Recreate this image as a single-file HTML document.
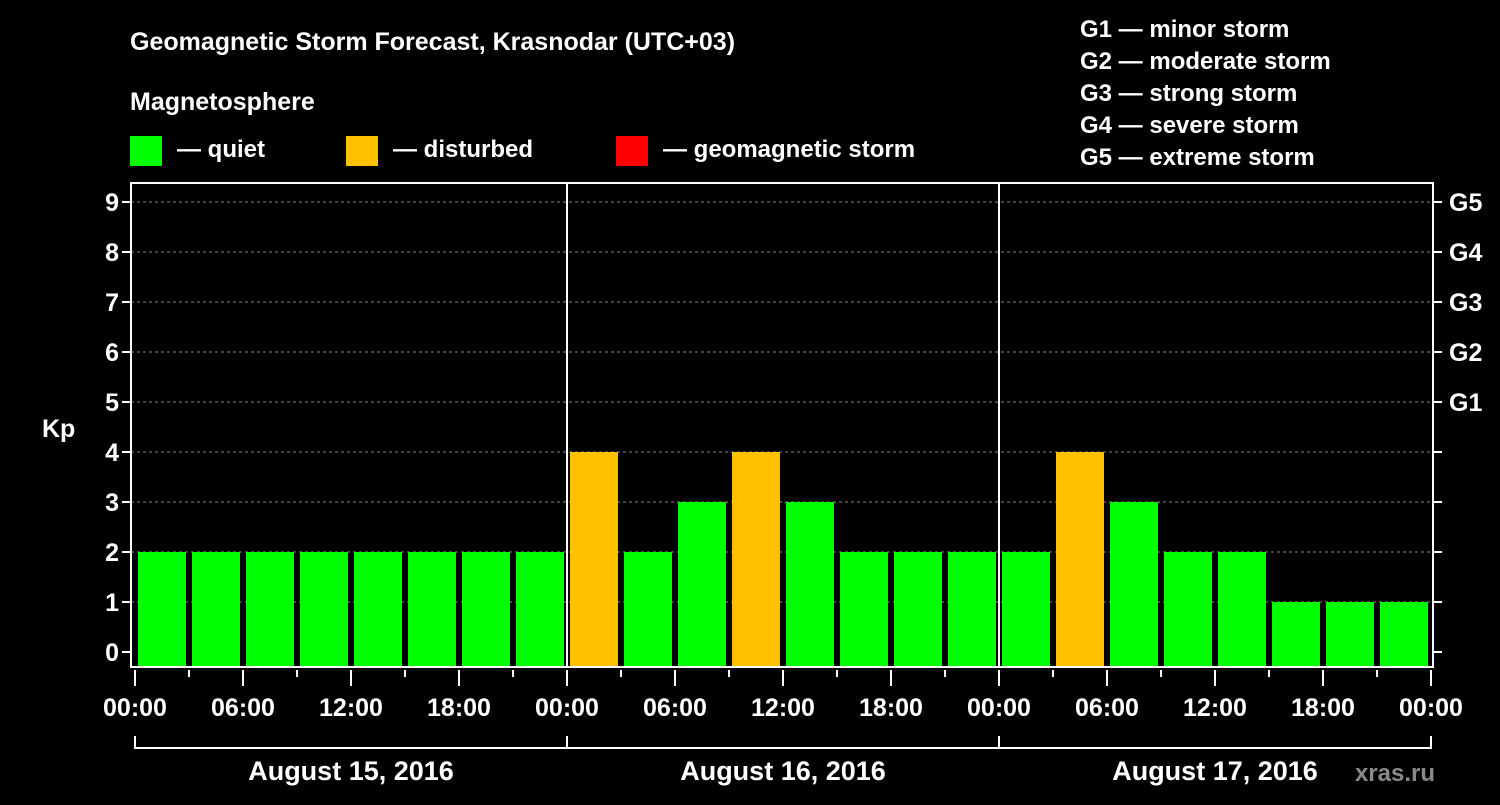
<!DOCTYPE html>
<html><head><meta charset="utf-8"><style>
body{margin:0;background:#000;width:1500px;height:800px;overflow:hidden}
svg text{font-family:"Liberation Sans",sans-serif;font-weight:bold;fill:#fff}
</style></head><body>
<svg width="1500" height="800">
<text x="130" y="50" font-size="25">Geomagnetic Storm Forecast, Krasnodar (UTC+03)</text>
<text x="130" y="110" font-size="25">Magnetosphere</text>
<g>
<rect x="130" y="136" width="32" height="30" fill="#00ff00"/>
<text x="177" y="157" font-size="24">— quiet</text>
<rect x="346" y="136" width="32" height="30" fill="#ffc000"/>
<text x="393" y="157" font-size="24">— disturbed</text>
<rect x="616" y="136" width="32" height="30" fill="#ff0000"/>
<text x="663" y="157" font-size="24">— geomagnetic storm</text>
</g>
<g font-size="24">
<text x="1080" y="37">G1 — minor storm</text>
<text x="1080" y="69">G2 — moderate storm</text>
<text x="1080" y="101">G3 — strong storm</text>
<text x="1080" y="133">G4 — severe storm</text>
<text x="1080" y="165">G5 — extreme storm</text>
</g>
<text x="42" y="437" font-size="25">Kp</text>
<text x="1435" y="781" font-size="24" fill="#888" style="fill:#8a8a8a" text-anchor="end">xras.ru</text>
<g id="plot"></g>
</svg>
<script>
const kpValues=[2,2,2,2,2,2,2,2, 4,2,3,4,3,2,2,2, 2,4,3,2,2,1,1,1];
const timeLabels=["00:00","06:00","12:00","18:00","00:00","06:00","12:00","18:00","00:00","06:00","12:00","18:00","00:00"];
const dayLabels=["August 15, 2016","August 16, 2016","August 17, 2016"];
const yTicks=[0,1,2,3,4,5,6,7,8,9];
const gLabels=["G1","G2","G3","G4","G5"];
const NS="http://www.w3.org/2000/svg";
const g=document.getElementById('plot');
const X0=135,SLOT=54,Y0=652,UNIT=50;
const L=131,R=1433,T=183,B=667;
const xs=i=>X0+i*SLOT, ys=v=>Y0-v*UNIT;
function mk(t,a,p){const e=document.createElementNS(NS,t);for(const k in a)e.setAttribute(k,a[k]);(p||g).appendChild(e);return e;}
function col(v){return v>=5?"#ff0000":v>=4?"#ffc000":"#00ff00";}
yTicks.forEach(v=>{
 if(v>0){const gl=mk('line',{x1:L,x2:R,y1:ys(v),y2:ys(v),stroke:'#888','stroke-dasharray':'3,3','stroke-width':1});
 
 }
 const t=mk('line',{x1:L-9,x2:L,y1:ys(v),y2:ys(v),stroke:'#fff','stroke-width':2});
 
 
 const t2=mk('line',{x1:R,x2:R+9,y1:ys(v),y2:ys(v),stroke:'#fff','stroke-width':2});
 
 
 const tx=mk('text',{x:L-12,y:ys(v)+9,'font-size':25,'text-anchor':'end'});tx.textContent=v;
 
 
});
gLabels.forEach((s,i)=>{const tx=mk('text',{x:1449,y:ys(5+i)+9,'font-size':25});tx.textContent=s;
 
 });
kpValues.forEach((v,i)=>{const r=mk('rect',{x:xs(i)+3,y:ys(v),width:SLOT-6,height:B-ys(v),fill:col(v)});
 
 });
const fr=mk('rect',{x:L,y:T,width:R-L,height:B-T,fill:'none',stroke:'#fff','stroke-width':2});


[8,16].forEach(i=>{const l=mk('line',{x1:xs(i),x2:xs(i),y1:T,y2:B,stroke:'#fff','stroke-width':2});
 
 });
for(let i=0;i<=kpValues.length;i++){const maj=i%2==0;
 const l=mk('line',{x1:xs(i),x2:xs(i),y1:670,y2:maj?686:677,stroke:'#fff','stroke-width':2});
 
 }
timeLabels.forEach((s,i)=>{const t=mk('text',{x:xs(i*2),y:716,'font-size':25,'text-anchor':'middle'});t.textContent=s;
 
 });
const br=mk('polyline',{points:`${xs(0)},736 ${xs(0)},748 ${xs(24)},748 ${xs(24)},736`,fill:'none',stroke:'#fff','stroke-width':2});


dayLabels.forEach((s,d)=>{const l=mk('line',{x1:xs(d*8),x2:xs(d*8),y1:736,y2:748,stroke:'#fff','stroke-width':2});
 
 
 const t=mk('text',{x:xs(d*8+4),y:780,'font-size':27,'text-anchor':'middle'});t.textContent=s;
 
 });
</script>
</body></html>
